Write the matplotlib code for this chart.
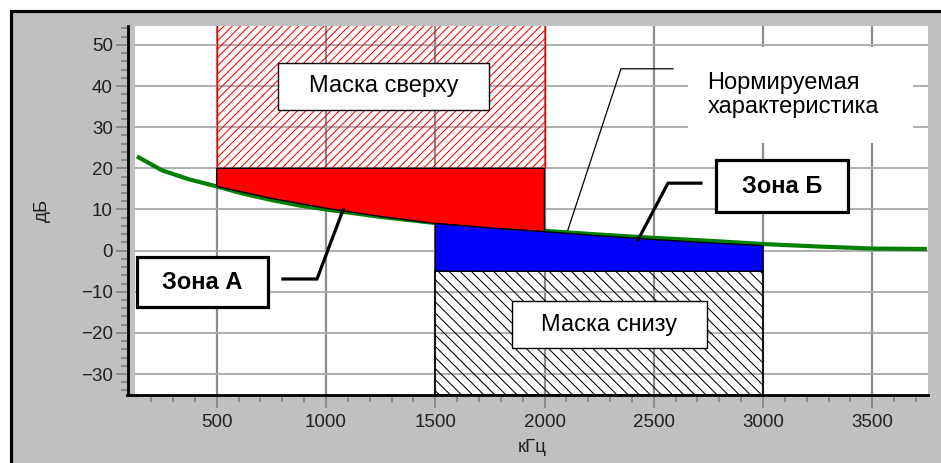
import matplotlib
matplotlib.use("Agg")
import matplotlib.pyplot as plt
from matplotlib.patches import Rectangle
from matplotlib.lines import Line2D
from matplotlib.ticker import MultipleLocator

plt.rcParams['font.family'] = ['Liberation Sans', 'DejaVu Sans']
plt.rcParams['hatch.linewidth'] = 0.75

# ---- data ----
norm_freq = [135, 250, 375, 500, 625, 750, 875, 1000, 1250, 1500, 1750, 2000,
             2250, 2500, 2750, 3000, 3250, 3500, 3750]
norm_db = [22.9, 19.5, 17.3, 15.6, 13.8, 12.3, 11.0, 10.0, 8.2, 6.7, 5.7, 4.8,
           3.9, 3.1, 2.4, 1.6, 1.0, 0.5, 0.4]

bound_freq = [500, 750, 1000, 1250, 1500, 1750, 2000, 2250, 2500, 2750, 3000]
bound_db = [15.6, 12.7, 10.3, 8.3, 6.6, 5.5, 4.6, 3.6, 2.7, 1.9, 1.2]

upper_mask_f = [500, 2000]      # kHz
upper_mask_db = [20, 55]        # dB
lower_mask_f = [1500, 3000]
lower_mask_db = [-35, -5]

x_ticks = [500, 1000, 1500, 2000, 2500, 3000, 3500]
y_ticks = [-30, -20, -10, 0, 10, 20, 30, 40, 50]

W, H = 941, 463
fig = plt.figure(figsize=(W / 100, H / 100), dpi=100)
fig.patch.set_facecolor('white')
fig.add_artist(Rectangle((10.5 / 100, -0.3), 10, (H - 10.5) / 100 + 0.3,
                         transform=fig.dpi_scale_trans, facecolor='#c0c0c0',
                         edgecolor='black', lw=2.3, zorder=-10))

L, R, T, B = 135, 928, 26, 395
ax = fig.add_axes([L / W, (H - B) / H, (R - L) / W, (B - T) / H])
ax.set_facecolor('white')
ax.set_xlim(126, 3755)
ax.set_ylim(-35.1, 54.6)

# grid
ax.set_axisbelow(True)
ax.set_xticks(x_ticks)
ax.set_yticks(y_ticks)
ax.xaxis.set_minor_locator(MultipleLocator(100))
ax.yaxis.set_minor_locator(MultipleLocator(2))
ax.xaxis.grid(True, which='major', color='#8c8c8c', lw=1.6)
ax.yaxis.grid(True, which='major', color='#a8a8a8', lw=1.3)

for s in ['top', 'right']:
    ax.spines[s].set_visible(False)
ax.spines['left'].set_position(('outward', 5))
ax.spines['left'].set_linewidth(2.0)
ax.spines['left'].set_color('black')
ax.spines['bottom'].set_linewidth(2.0)
ax.spines['bottom'].set_color('black')
ax.add_line(Line2D([-8 / (R - L), 0], [0, 0], transform=ax.transAxes,
                   color='black', lw=2.0, clip_on=False))

ax.tick_params(which='major', length=9, width=1.2, color='#808080',
               labelsize=13.5, labelcolor='#202020')
ax.tick_params(which='minor', length=5, width=1.2, color='#808080')
ax.tick_params(axis='x', which='major', pad=5)
ax.tick_params(axis='y', which='major', pad=2)

# masks
ax.add_patch(Rectangle((upper_mask_f[0], upper_mask_db[0]),
                       upper_mask_f[1] - upper_mask_f[0],
                       upper_mask_db[1] - upper_mask_db[0],
                       fill=False, edgecolor='#ff0000', hatch='////', lw=1.0, zorder=1))
ax.add_patch(Rectangle((lower_mask_f[0], lower_mask_db[0]),
                       lower_mask_f[1] - lower_mask_f[0],
                       lower_mask_db[1] - lower_mask_db[0],
                       fill=False, edgecolor='black', hatch='\\\\\\', lw=1.2, zorder=1))

# normalized characteristic
ax.plot(norm_freq, norm_db, color='#008000', lw=3.0, zorder=2,
        solid_capstyle='butt')

# zone A (red)
za_f = [upper_mask_f[0], upper_mask_f[1]]
za_x = [za_f[0], za_f[1]] + [f for f in bound_freq if za_f[0] <= f <= za_f[1]][::-1]
za_y = [upper_mask_db[0], upper_mask_db[0]] + \
       [d for f, d in zip(bound_freq, bound_db) if za_f[0] <= f <= za_f[1]][::-1]
ax.fill(za_x, za_y, facecolor='#ff0000', edgecolor='black', lw=1.0, zorder=3)

# zone B (blue)
zb_pts = [(f, d) for f, d in zip(bound_freq, bound_db)
          if lower_mask_f[0] <= f <= lower_mask_f[1]]
zb_x = [lower_mask_f[0]] + [p[0] for p in zb_pts] + [lower_mask_f[1]]
zb_y = [lower_mask_db[1]] + [p[1] for p in zb_pts] + [lower_mask_db[1]]
ax.fill(zb_x, zb_y, facecolor='#0000ff', edgecolor='black', lw=1.0, zorder=3)

# labels boxes
def box(x0, x1, y0, y1, lw):
    ax.add_patch(Rectangle((x0, y0), x1 - x0, y1 - y0, facecolor='white',
                           edgecolor='black', lw=lw, zorder=5, clip_on=False))

FS = 17
box(780, 1746, 34.2, 45.6, 1.0)
ax.text((780 + 1746) / 2, (34.2 + 45.6) / 2, 'Маска сверху', fontsize=FS,
        ha='center', va='center', zorder=6)
box(1851, 2744, -23.7, -12.3, 1.0)
ax.text((1851 + 2744) / 2, (-23.7 - 12.3) / 2, 'Маска снизу', fontsize=FS,
        ha='center', va='center', zorder=6)
box(136, 735, -13.7, -1.6, 2.3)
ax.text((136 + 735) / 2, (-13.7 - 1.6) / 2, 'Зона А', fontsize=FS,
        fontweight='bold', ha='center', va='center', zorder=6)
box(2785, 3389, 9.4, 22.0, 2.3)
ax.text((2785 + 3389) / 2, (9.4 + 22.0) / 2, 'Зона Б', fontsize=FS,
        fontweight='bold', ha='center', va='center', zorder=6)

# normalized characteristic label (white box without border)
ax.add_patch(Rectangle((2657, 26.2), 3687 - 2657, 49.5 - 26.2, facecolor='white',
                       edgecolor='none', zorder=1.5))
ax.text(2745, 37.9, 'Нормируемая\nхарактеристика', fontsize=FS,
        ha='left', va='center', linespacing=1.1, zorder=6)

# leader lines
ax.plot([2588, 2350, 2107], [44.2, 44.2, 5.0], color='black', lw=0.9, zorder=4)
ax.plot([2716, 2565, 2428], [16.4, 16.4, 2.6], color='black', lw=2.3, zorder=4)
ax.plot([803, 959, 1078], [-6.9, -6.9, 9.9], color='black', lw=2.3, zorder=4)

fig.text(42 / W, 1 - 210 / H, 'дБ', rotation=90, fontsize=13.5, color='#202020',
         ha='center', va='center')
fig.text(532 / W, 1 - 448 / H, 'кГц', fontsize=13.5, color='#202020',
         ha='center', va='center')

fig.savefig('out.png', dpi=100, facecolor=fig.get_facecolor())
